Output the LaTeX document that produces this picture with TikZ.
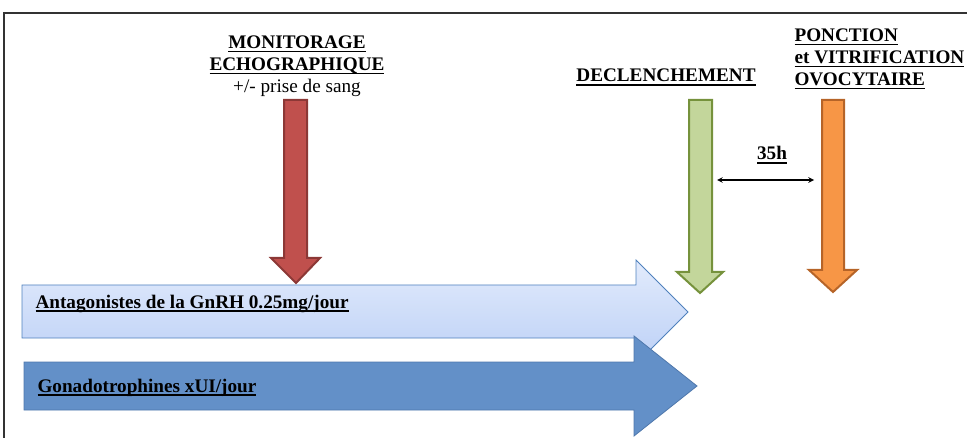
\documentclass[tikz,border=0pt]{standalone}
\usepackage{fontspec}
\setmainfont{Liberation Serif}
\usepackage{tikz}

\definecolor{monred}{RGB}{192,80,77}
\definecolor{monredline}{RGB}{140,56,54}
\definecolor{trigreen}{RGB}{195,214,155}
\definecolor{trigreenline}{RGB}{118,146,60}
\definecolor{punctorange}{RGB}{247,150,70}
\definecolor{punctorangeline}{RGB}{182,100,40}
\definecolor{antatop}{RGB}{226,235,252}
\definecolor{antabottom}{RGB}{188,208,246}
\definecolor{antaline}{RGB}{79,129,189}
\definecolor{gonafill}{RGB}{99,144,200}
\definecolor{gonaline}{RGB}{79,120,172}

% underline close to the baseline, as in the original
\newcommand{\undl}[1]{\setbox0=\hbox{#1}\rlap{\vrule height -1.8pt depth 2.8pt width \wd0}\box0}

\begin{document}
\begin{tikzpicture}[x=0.75pt,y=-0.75pt,thick,
  every node/.style={font=\fontsize{14.4}{16.6}\selectfont\bfseries,inner sep=0pt}]
\useasboundingbox (0,0) rectangle (967,438);

% Frame round the scheme.
\draw[line width=0.8pt,black!80] (4,438) -- (4,13) -- (967,13);

% Draw treatment arrows, light one first.
\draw[line width=0.6pt,antaline,top color=antatop,bottom color=antabottom]
  (22,285) -- (636,285) -- (636,260) -- (688,312) -- (636,364) -- (636,338) -- (22,338) -- cycle;
\draw[line width=0.6pt,gonaline,fill=gonafill]
  (24,362) -- (634,362) -- (634,336) -- (697,386) -- (634,436) -- (634,410) -- (24,410) -- cycle;

% Draw event arrows.
\draw[line width=1.5pt,monredline,fill=monred]
  (284,100) -- (307,100) -- (307,258) -- (320,258) -- (296,283) -- (271,258) -- (284,258) -- cycle;
\draw[line width=1.5pt,trigreenline,fill=trigreen]
  (689,100) -- (712,100) -- (712,272) -- (723,272) -- (700,293) -- (677,272) -- (689,272) -- cycle;
\draw[line width=1.5pt,punctorangeline,fill=punctorange]
  (822,100) -- (844,100) -- (844,270) -- (857,270) -- (833,292) -- (809,270) -- (822,270) -- cycle;

% Delay between trigger and puncture.
\coordinate (trigside) at (717,180);
\coordinate (punctside) at (814,180);
\draw[<->,>=stealth,line width=0.9pt] (trigside) -- (punctside);
\node[anchor=base] (delay) at (772,160) {\undl{35h}};

% Labels.
\node[anchor=north,align=center] (monitor) at (297,35)
  {\undl{MONITORAGE}\\\undl{ECHOGRAPHIQUE}\\{\mdseries +/- prise de sang}};
\node[anchor=base] (trigger) at (666,82) {\undl{DECLENCHEMENT}};
\node[anchor=north west,align=left] (puncture) at (794,28)
  {\undl{PONCTION}\\\undl{et VITRIFICATION}\\\undl{OVOCYTAIRE}};
\node[anchor=base west] (antagonist) at (35,308) {\undl{Antagonistes de la GnRH 0.25mg/jour}};
\node[anchor=base west] (gonado) at (37,392) {\undl{Gonadotrophines xUI/jour}};

\end{tikzpicture}
\end{document}
